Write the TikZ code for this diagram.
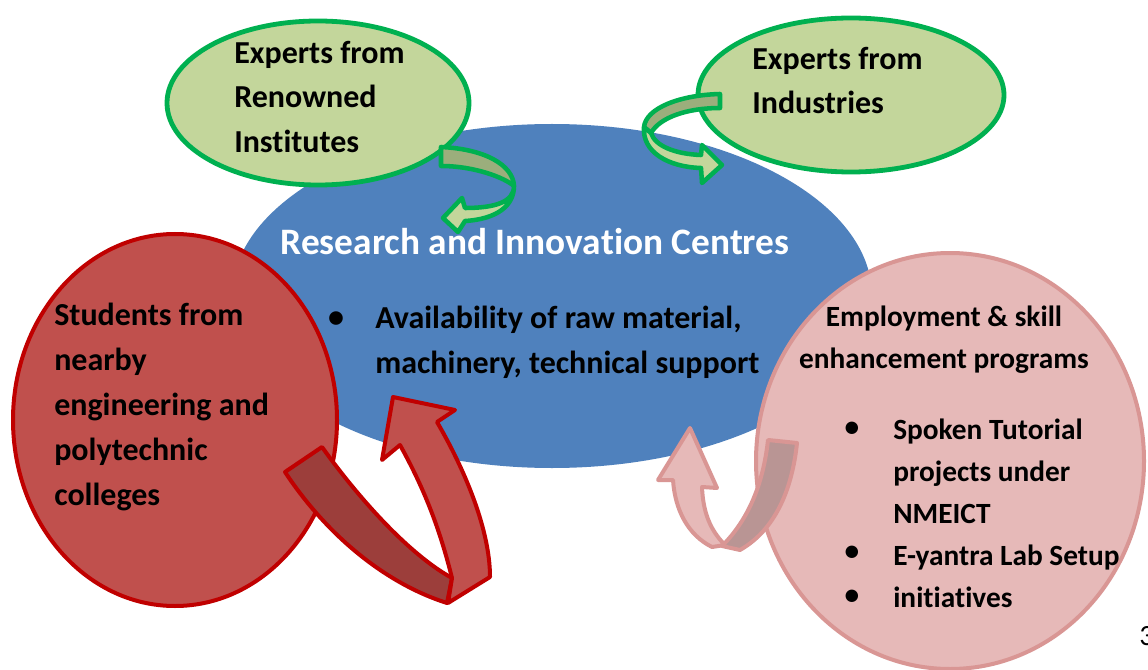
\documentclass[tikz,border=0pt]{standalone}
\usepackage{fontspec}
\setmainfont{Carlito}[Ligatures=NoCommon]
\definecolor{blueF}{HTML}{4F81BD}
\definecolor{greenF}{HTML}{C3D69B}
\definecolor{greenD}{HTML}{00B050}
\definecolor{greenBack}{HTML}{9BAE7C}
\definecolor{redF}{HTML}{C0504D}
\definecolor{redD}{HTML}{C00000}
\definecolor{redBack}{HTML}{9C3E3B}
\definecolor{pinkF}{HTML}{E6B9B8}
\definecolor{pinkD}{HTML}{D99694}
\definecolor{pinkBack}{HTML}{B99594}
\begin{document}
\begin{tikzpicture}[x=0.75pt,y=-0.75pt,
  lbl/.style={inner sep=0pt,align=left,font=\bfseries\fontsize{24}{33.6}\selectfont},
  plbl/.style={inner sep=0pt,align=left,font=\bfseries\fontsize{22}{31.5}\selectfont},
  greenblob/.style={fill=greenF,draw=greenD,line width=3.6pt},
  greenarrow/.style={draw=greenD,line width=3.4pt,line join=round},
  redarrow/.style={draw=redD,line width=3pt,line join=round},
  pinkarrow/.style={draw=pinkD,line width=3pt,line join=round}]
\useasboundingbox (0,0) rectangle (1148,670);
\fill[white] (0,0) rectangle (1148,670);
% centre
\coordinate (cBlue) at (552,296);
\fill[blueF] (cBlue) ellipse [x radius=320,y radius=172];
% green ellipses
\coordinate (cInst) at (318,103);
\coordinate (cInd) at (851,95);
\path[greenblob] (cInst) ellipse [x radius=151,y radius=82];
\path[greenblob] (cInd) ellipse [x radius=153,y radius=77];
% red and pink
\coordinate (cStu) at (175,420);
\path[fill=redF,draw=redD,line width=3pt] (cStu) ellipse [x radius=162,y radius=186];
\coordinate (cEmp) at (950,461);
\path[fill=pinkF,draw=pinkD,line width=3pt] (cEmp) ellipse [x radius=194,y radius=208];
% top-left arrow
\path[greenarrow,fill=greenBack] (441,147) .. controls (485,149) and (513,165) .. (514,186)
   .. controls (505,178) and (475,166) .. (441,166) -- cycle;
\path[greenarrow,fill=greenF] (514,186) .. controls (514,202) and (495,208) .. (465,208)
   -- (462,198) -- (443,218) -- (458,232) -- (465,221)
   .. controls (498,219) and (514,205) .. (514,186) -- cycle;
% top-right arrow
\path[greenarrow,fill=greenBack] (720,94) -- (720,108) .. controls (688,108) and (660,117) .. (651,133)
   -- (644,127) .. controls (646,108) and (680,95) .. (720,94) -- cycle;
\path[greenarrow,fill=greenF] (644,127) .. controls (642,152) and (668,167) .. (701,168)
   -- (702,183) -- (722,165) -- (702,145) -- (701,155)
   .. controls (675,154) and (655,146) .. (651,133) -- cycle;
% red arrow
\path[redarrow,fill=redBack] (285,472) -- (322,447) .. controls (360,500) and (410,555) .. (452,578)
   -- (447,603) .. controls (390,585) and (330,540) .. (285,472) -- cycle;
\path[redarrow,fill=redF] (452,578) .. controls (440,530) and (425,490) .. (400,445)
   -- (382,460) -- (393,397) -- (455,410) -- (437,422)
   .. controls (465,470) and (490,530) .. (490,577) -- (448,603) -- cycle;
% pink arrow
\path[pinkarrow,fill=pinkF] (725,545) -- (712,547) .. controls (688,535) and (675,510) .. (673,480)
   -- (658,480) -- (690,428) -- (717,488) -- (702,487)
   .. controls (703,512) and (710,530) .. (725,545) -- cycle;
\path[pinkarrow,fill=pinkBack] (768,440) -- (797,443) .. controls (792,490) and (775,530) .. (740,550)
   -- (722,546) .. controls (748,520) and (763,485) .. (768,440) -- cycle;
% texts
\node[lbl,anchor=west] (tInst) at (234,97) {Experts from\\Renowned\\Institutes};
\node[lbl,anchor=west] (tInd) at (752,80.5) {Experts from\\Industries};
\node[inner sep=0pt,text=white,font=\bfseries\fontsize{28}{33}\selectfont] (tTitle) at (535,242) {Research and Innovation Centres};
\node[lbl] (bAv) at (336,320) {\textbullet};
\node[lbl,anchor=west] (tAv) at (375,342) {Availability of raw material,\\machinery, technical support};
\node[lbl,anchor=west] (tStu) at (54,407) {Students from\\nearby\\engineering and\\polytechnic\\colleges};
\node[plbl,align=center] (tEmp) at (944,340) {Employment \& skill\\enhancement programs};
\node[plbl] (bSp) at (852,429) {\textbullet};
\node[plbl] (bEy) at (852,553) {\textbullet};
\node[plbl] (bIn) at (852,597) {\textbullet};
\node[plbl,anchor=west] (tSp) at (893,513) {Spoken Tutorial\\projects under\\NMEICT\\E-yantra Lab Setup\\initiatives};
\node[inner sep=0pt,anchor=west,font=\fontsize{22}{26}\selectfont] (tPage) at (1139,636) {3};
\end{tikzpicture}
\end{document}
